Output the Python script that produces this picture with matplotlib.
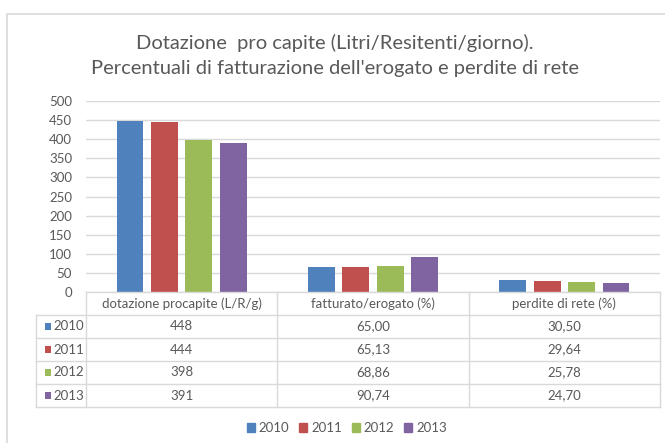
import matplotlib
matplotlib.use("Agg")
import matplotlib.pyplot as plt
import matplotlib.patches as mpatches
from matplotlib.lines import Line2D

plt.rcParams["font.family"] = ["Lato", "DejaVu Sans"]

W, H = 665, 443
TEXT = "#595959"
GRID = "#D9D9D9"

title = ("Dotazione  pro capite (Litri/Resitenti/giorno).\n"
         "Percentuali di fatturazione dell'erogato e perdite di rete")
categories = ["dotazione procapite (L/R/g)", "fatturato/erogato (%)", "perdite di rete (%)"]
years = ["2010", "2011", "2012", "2013"]
colors = ["#4F81BD", "#C0504D", "#9BBB59", "#8064A2"]

values = {
    "2010": [448, 65.00, 30.50],
    "2011": [444, 65.13, 29.64],
    "2012": [398, 68.86, 25.78],
    "2013": [391, 90.74, 24.70],
}
labels = {
    "2010": ["448", "65,00", "30,50"],
    "2011": ["444", "65,13", "29,64"],
    "2012": ["398", "68,86", "25,78"],
    "2013": ["391", "90,74", "24,70"],
}
yticks = [0, 50, 100, 150, 200, 250, 300, 350, 400, 450, 500]


def fx(px):
    return px / W


def fy(px):
    return 1 - px / H


fig = plt.figure(figsize=(W / 100, H / 100), dpi=100)
fig.patch.set_facecolor("white")

# chart frame
fig.patches.append(mpatches.Rectangle((fx(7), fy(460)), fx(700), fy(14) - fy(460),
                                      transform=fig.transFigure, fill=False,
                                      edgecolor="#D9D9D9", lw=1.2))

fig.text(fx(335), fy(55.5), title, ha="center", va="center", fontsize=14.5,
         color=TEXT, linespacing=1.55)

# bars
ax = fig.add_axes([fx(86), fy(292), fx(660) - fx(86), fy(101) - fy(292)])
bw = 0.141
step = 0.18
for i, yr in enumerate(years):
    xs = [c + (i - 1.5) * step for c in range(len(categories))]
    ax.bar(xs, values[yr], width=bw, color=colors[i], zorder=3)

ax.set_xlim(-0.5, 2.5)
ax.set_ylim(0, 500)
ax.set_yticks(yticks)
ax.set_yticklabels([str(v) for v in yticks], fontsize=9.5, color=TEXT)
ax.set_xticks([])
ax.tick_params(axis="y", length=0, pad=10)
ax.grid(axis="y", color=GRID, lw=1, zorder=0)
for s in ax.spines.values():
    s.set_visible(False)

# data table below the plot
key_w = 50 / 191
tab = fig.add_axes([fx(36), fy(407), fx(660) - fx(36), fy(292) - fy(407)])
tab.set_xlim(-0.5 - key_w, 2.5)
tab.set_ylim(5, 0)
tab.axis("off")

for j, cat in enumerate(categories):
    tab.text(j, 0.5, cat, ha="center", va="center", fontsize=9.5, color=TEXT)
for i, yr in enumerate(years):
    r = i + 1.5
    tab.add_patch(mpatches.Rectangle((-0.5 - key_w + 0.045, r - 0.17), 0.032, 0.34,
                                     color=colors[i], lw=0))
    tab.text(-0.5 - key_w + 0.09, r, yr, ha="left", va="center", fontsize=9.5, color=TEXT)
    for j in range(len(categories)):
        tab.text(j, r, labels[yr][j], ha="center", va="center", fontsize=9.5, color=TEXT)

lk = dict(color=GRID, lw=1, clip_on=False)
tab.add_line(Line2D([-0.5, 2.5], [0, 0], **lk))
for k in range(1, 6):
    tab.add_line(Line2D([-0.5 - key_w, 2.5], [k, k], **lk))
for xv in [-0.5, 0.5, 1.5, 2.5]:
    tab.add_line(Line2D([xv, xv], [0, 5], **lk))
tab.add_line(Line2D([-0.5 - key_w, -0.5 - key_w], [1, 5], **lk))

# legend
handles = [mpatches.Patch(color=c, label=y) for c, y in zip(colors, years)]
fig.legend(handles=handles, loc="center", bbox_to_anchor=(fx(347), fy(428)), ncol=4,
           frameon=False, fontsize=9.5, labelcolor=TEXT, handlelength=0.6,
           handleheight=0.6, handletextpad=0.3, columnspacing=0.75)

fig.savefig("out.png", dpi=100, facecolor="white")
